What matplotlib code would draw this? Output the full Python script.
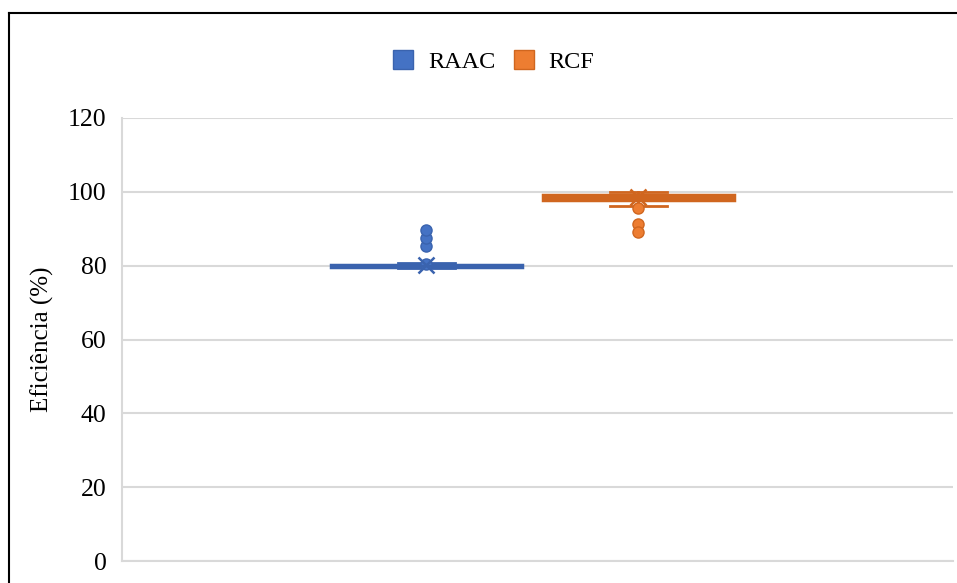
import matplotlib.pyplot as plt
from matplotlib.lines import Line2D

plt.rcParams['font.family'] = ['Liberation Serif', 'DejaVu Serif']

series = ["RAAC", "RCF"]
face_colors = ["#4472C4", "#ED7D31"]
edge_colors = ["#3A63AE", "#D0661F"]

# summary values for each series
q1 = [79.7, 97.7]
median = [80.0, 98.6]
q3 = [80.2, 99.1]
whisker_low = [79.5, 96.2]
whisker_high = [80.6, 100.0]
means = [80.2, 98.5]
raac_points = [80.5, 85.4, 87.6, 89.7]
rcf_points = [95.5, 91.4, 89.2]

y_ticks = [0, 20, 40, 60, 80, 100, 120]

fig = plt.figure(figsize=(9.57, 5.83), dpi=100)
ax = fig.add_axes([0.1275, 0.0377, 0.8683, 0.7599])

stats = []
for i, pts in enumerate([raac_points, rcf_points]):
    stats.append({
        "label": series[i],
        "q1": q1[i], "med": median[i], "q3": q3[i],
        "whislo": whisker_low[i], "whishi": whisker_high[i],
        "mean": means[i], "fliers": pts,
    })

positions = [1, 2]
for i in range(2):
    fc, ec = face_colors[i], edge_colors[i]
    ax.bxp([stats[i]], positions=[positions[i]], widths=0.9, patch_artist=True,
           showmeans=True, showfliers=True,
           boxprops=dict(facecolor=ec, edgecolor=ec, linewidth=2.5),
           medianprops=dict(color=ec, linewidth=1.5),
           whiskerprops=dict(color=ec, linewidth=2.0),
           capprops=dict(color=ec, linewidth=2.0),
           capwidths=0.27,
           meanprops=dict(marker="x", markeredgecolor=ec, markersize=12, markeredgewidth=1.8),
           flierprops=dict(marker="o", markerfacecolor=fc, markeredgecolor=ec,
                           markersize=8, markeredgewidth=1),
           zorder=3)

ax.set_xlim(-0.435, 3.485)
ax.set_ylim(0, 120)
ax.set_yticks(y_ticks)
ax.set_xticks([])
ax.tick_params(axis="y", length=0, pad=11, labelsize=18.5)
ax.yaxis.grid(True, color="#d9d9d9", linewidth=1.5, zorder=0)
ax.set_axisbelow(True)
for side in ["top", "right"]:
    ax.spines[side].set_visible(False)
for side in ["left", "bottom"]:
    ax.spines[side].set_color("#d9d9d9")
    ax.spines[side].set_linewidth(1.5)
ax.set_ylabel("Eficiência (%)", fontsize=18, labelpad=10)

handles = [plt.Rectangle((0, 0), 1, 1, facecolor=face_colors[i], edgecolor=edge_colors[i])
           for i in range(2)]
fig.legend(handles, series, loc="center", bbox_to_anchor=(0.516, 0.895), ncol=2,
           frameon=False, fontsize=17.5, handlelength=0.82, handleheight=0.82,
           columnspacing=0.75, handletextpad=0.62)

# outer frame of the chart
fig.add_artist(Line2D([9 / 957, 1.0], [1 - 13 / 583] * 2, color="black", linewidth=1.5))
fig.add_artist(Line2D([9 / 957] * 2, [0.0, 1 - 13 / 583], color="black", linewidth=1.5))

fig.savefig("out.png", dpi=100)
